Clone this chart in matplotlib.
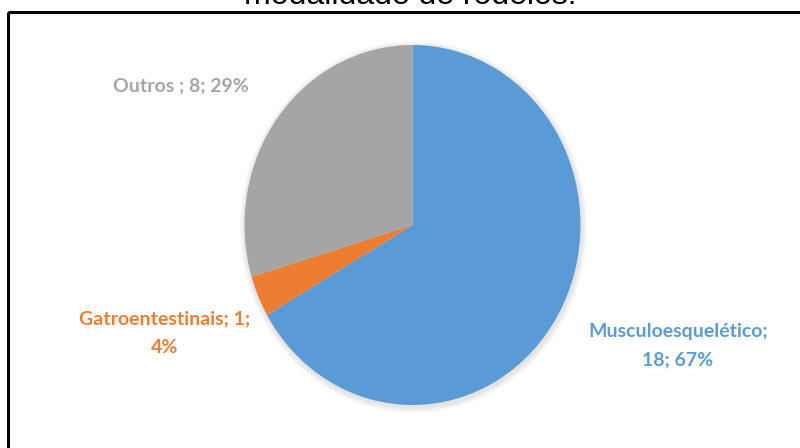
import matplotlib.pyplot as plt
from matplotlib.patches import Circle, Rectangle

# Data
categories = ["Musculoesquelético", "Gatroentestinais", "Outros "]
counts = [18, 1, 8]
percents = [67, 4, 29]
colors = ["#5B9BD5", "#ED7D31", "#A5A5A5"]
title = "modalidade de rodeios."

W, H = 800, 448
fig = plt.figure(figsize=(W / 100, H / 100), dpi=100)

# pixel-space axes for frame and text
ax = fig.add_axes([0, 0, 1, 1])
ax.set_xlim(0, W)
ax.set_ylim(H, 0)
ax.axis("off")

# frame around the chart area (runs off the right and bottom)
ax.add_patch(Rectangle((8, 12), W + 20, H + 20, fill=False,
                       edgecolor="black", linewidth=2.2, zorder=1))

# cut-off title at the top
ax.text(410, 4, title, ha="center", va="baseline",
        fontsize=23, family="Liberation Sans", color="black", zorder=5)

# pie axes: horizontally squeezed, so the pie comes out slightly oval
rx, ry = 168, 180
sx = ry / rx
cx, cy = 412.5, 225
pax = fig.add_axes([0, 0, 1, 1])
pax.patch.set_visible(False)

# soft shadow behind the pie
for i in range(6):
    pax.add_patch(Circle((cx * sx + 1, H - cy - 2), ry + 6 - i,
                         color="#7f7f7f", alpha=0.035, lw=0, zorder=2))

pax.pie(counts, colors=colors, startangle=90, counterclock=False,
        center=(cx * sx, H - cy), radius=ry, frame=True,
        wedgeprops=dict(linewidth=0, zorder=3))
pax.set_aspect("auto")
pax.set_xlim(0, W * sx)
pax.set_ylim(0, H)
pax.axis("off")

lbl = dict(fontsize=14, family="Lato", fontweight="bold", ha="center",
           va="center", linespacing=1.8, zorder=6)

ax.text(678, 346, f"{categories[0]};\n{counts[0]}; {percents[0]}%",
        color=colors[0], **lbl)
ax.text(165, 333, f"{categories[1]}; {counts[1]};\n{percents[1]}%",
        color=colors[1], **lbl)
ax.text(181, 86, f"{categories[2]}; {counts[2]}; {percents[2]}%",
        color=colors[2], **lbl)

fig.savefig("out.png", dpi=100)
